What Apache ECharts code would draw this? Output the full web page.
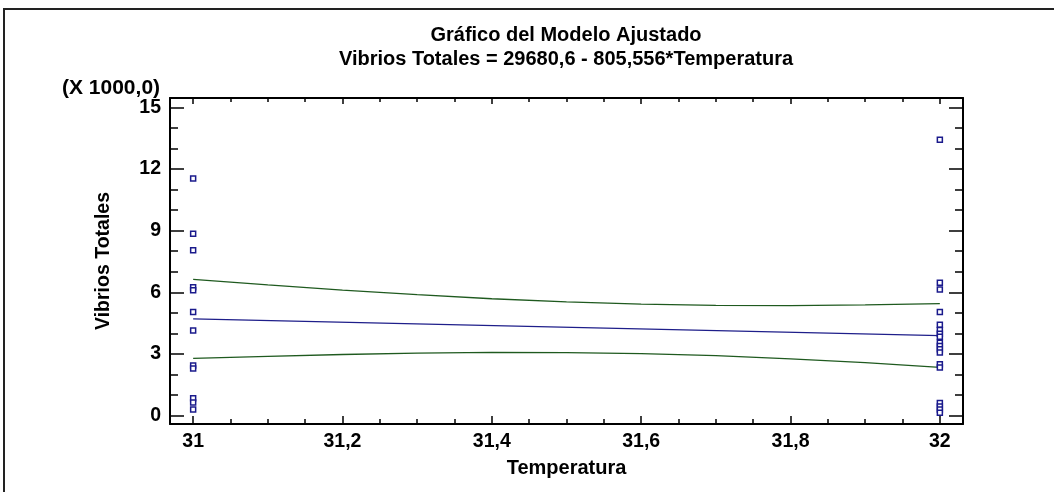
<!DOCTYPE html>
<html>
<head>
<meta charset="utf-8">
<script src="https://cdn.jsdelivr.net/npm/echarts@6/dist/echarts.min.js"></script>
<style>
html,body{margin:0;padding:0;background:#fff;}
#c{width:1054px;height:492px;}
</style>
</head>
<body>
<div id="c"></div>
<script>
// ---- data (values in thousands) ----
var titleText = 'Gráfico del Modelo Ajustado';
var subtitleText = 'Vibrios Totales = 29680,6 - 805,556*Temperatura';
var xName = 'Temperatura';
var yName = 'Vibrios Totales';
var yScaleNote = '(X 1000,0)';

var obsTemp31 = [31,31,31,31,31,31,31,31,31,31,31,31];
var obsVib31 = [11.54, 8.85, 8.05, 6.25, 6.1, 5.05, 4.15, 2.45, 2.3, 0.85, 0.65, 0.3];
var obsTemp32 = [32,32,32,32,32,32,32,32,32,32,32,32,32,32,32,32,32,32];
var obsVib32 = [13.42, 6.47, 6.14, 5.04, 4.43, 4.17, 3.99, 3.84, 3.55, 3.39, 3.23, 3.08, 2.5, 2.35, 0.62, 0.45, 0.3, 0.15];

var fitTemp = [31, 32];
var fitVib = [4.71, 3.90];

var bandTemp = [31, 31.1, 31.2, 31.3, 31.4, 31.5, 31.6, 31.7, 31.8, 31.9, 32];
var bandUpper = [6.63, 6.36, 6.11, 5.89, 5.69, 5.54, 5.43, 5.37, 5.36, 5.39, 5.45];
var bandLower = [2.79, 2.89, 2.98, 3.05, 3.08, 3.07, 3.02, 2.92, 2.77, 2.58, 2.35];

var xMajorTicks = [31, 31.2, 31.4, 31.6, 31.8, 32];
var xMinorTicks = [31.05, 31.1, 31.15, 31.25, 31.3, 31.35, 31.45, 31.5, 31.55, 31.65, 31.7, 31.75, 31.85, 31.9, 31.95];
var yMajorTicks = [0, 3, 6, 9, 12, 15];
var yMinorTicks = [1, 2, 4, 5, 7, 8, 10, 11, 13, 14];

var xMin = 30.969, xMax = 32.031;
var yMin = -0.4, yMax = 15.45;

// ---- chart ----
var FONT = "'Liberation Sans', Arial, sans-serif";
function pairs(xs, ys){ return xs.map(function(x,i){ return [x, ys[i]]; }); }
function fmtComma(v){ return String(Math.round(v*100)/100).replace('.', ','); }

function makeX(pos, ticks, len, showLabel, showLine){
  return {
    type:'value', position:pos, min:xMin, max:xMax,
    splitLine:{show:false},
    axisLine:{show:showLine, onZero:false, lineStyle:{color:'#000', width:2}},
    axisTick:{show:true, inside:true, length:len, customValues:ticks, lineStyle:{color:'#000', width:1.5}},
    axisLabel:{show:showLabel, customValues:ticks, formatter:fmtComma, margin:8,
      color:'#000', fontFamily:FONT, fontWeight:'bold', fontSize:19.5},
    name: showLabel ? xName : '', nameLocation:'middle', nameGap:34,
    nameTextStyle:{color:'#000', fontFamily:FONT, fontWeight:'bold', fontSize:20}
  };
}
function makeY(pos, ticks, len, showLabel, showLine){
  return {
    type:'value', position:pos, min:yMin, max:yMax,
    splitLine:{show:false},
    axisLine:{show:showLine, onZero:false, lineStyle:{color:'#000', width:2}},
    axisTick:{show:true, inside:true, length:len, customValues:ticks, lineStyle:{color:'#000', width:1.5}},
    axisLabel:{show:showLabel, customValues:ticks, margin:9,
      color:'#000', fontFamily:FONT, fontWeight:'bold', fontSize:19.5},
    name: showLabel ? yName : '', nameLocation:'middle', nameGap:56, nameRotate:90,
    nameTextStyle:{color:'#000', fontFamily:FONT, fontWeight:'bold', fontSize:19.5}
  };
}

var chart = echarts.init(document.getElementById('c'), null, {renderer:'canvas'});
chart.setOption({
  animation:false,
  backgroundColor:'#fff',
  grid:{left:170, right:91, top:98, bottom:68, containLabel:false},
  xAxis:[
    makeX('bottom', xMajorTicks, 8, true, true),
    makeX('bottom', xMinorTicks, 5, false, false),
    makeX('top', xMajorTicks, 6, false, true),
    makeX('top', xMinorTicks, 4, false, false)
  ],
  yAxis:[
    makeY('left', yMajorTicks, 14, true, true),
    makeY('left', yMinorTicks, 8, false, false),
    makeY('right', yMajorTicks, 14, false, true),
    makeY('right', yMinorTicks, 8, false, false)
  ],
  graphic:[
    {type:'rect', z:100, silent:true, shape:{x:4, y:9, width:1200, height:600},
      style:{fill:'none', stroke:'#222', lineWidth:2}},
    {type:'text', x:566, y:35, style:{text:titleText, textAlign:'center', textVerticalAlign:'middle',
      font:'bold 20px ' + FONT, fill:'#000'}},
    {type:'text', x:566, y:59, style:{text:subtitleText, textAlign:'center', textVerticalAlign:'middle',
      font:'bold 20px ' + FONT, fill:'#000'}},
    {type:'text', x:62, y:88, style:{text:yScaleNote, textAlign:'left', textVerticalAlign:'middle',
      font:'bold 21px ' + FONT, fill:'#000'}}
  ],
  series:[
    {type:'line', xAxisIndex:0, yAxisIndex:0, data:pairs(bandTemp, bandUpper), symbol:'none',
      lineStyle:{color:'#1f5a1f', width:1.3}, z:2},
    {type:'line', xAxisIndex:0, yAxisIndex:0, data:pairs(bandTemp, bandLower), symbol:'none',
      lineStyle:{color:'#1f5a1f', width:1.3}, z:2},
    {type:'line', xAxisIndex:0, yAxisIndex:0, data:pairs(fitTemp, fitVib), symbol:'none',
      lineStyle:{color:'#1e1e8a', width:1.3}, z:2},
    {type:'scatter', xAxisIndex:0, yAxisIndex:0, data:pairs(obsTemp31, obsVib31), symbol:'rect', symbolSize:5,
      itemStyle:{color:'#fff', borderColor:'#1a1a8c', borderWidth:1.5, opacity:1}, z:3},
    {type:'scatter', xAxisIndex:0, yAxisIndex:0, data:pairs(obsTemp32, obsVib32), symbol:'rect', symbolSize:5,
      itemStyle:{color:'#fff', borderColor:'#1a1a8c', borderWidth:1.5, opacity:1}, z:3}
  ]
});
</script>
</body>
</html>
